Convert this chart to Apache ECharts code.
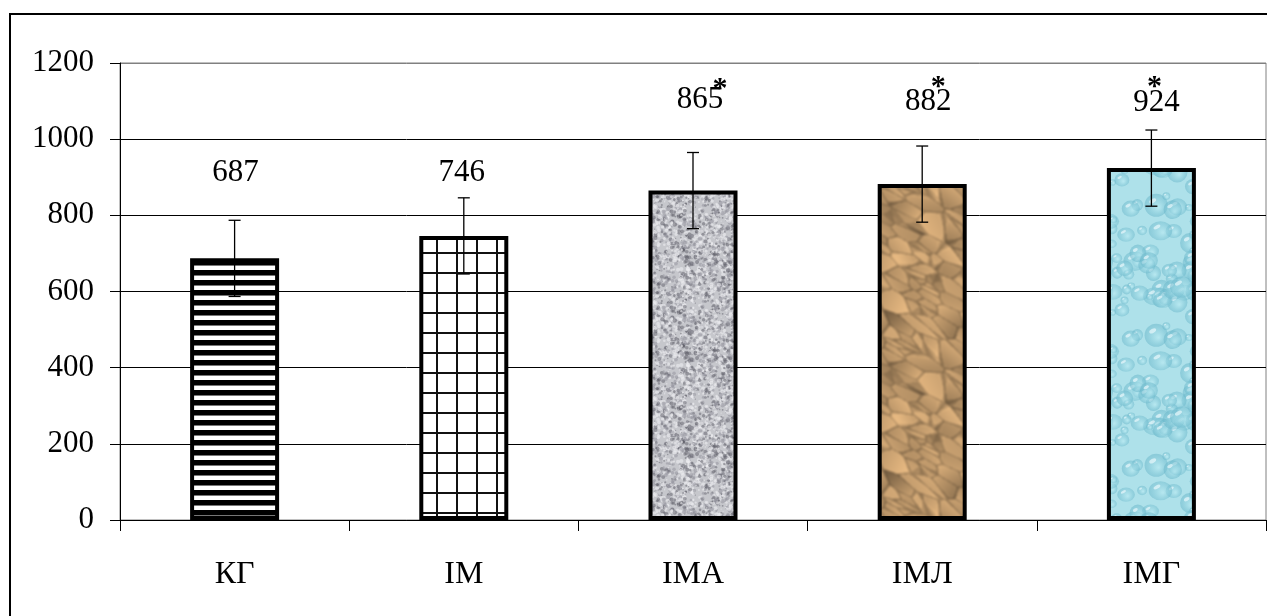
<!DOCTYPE html>
<html>
<head>
<meta charset="utf-8">
<script src="https://cdn.jsdelivr.net/npm/echarts@6/dist/echarts.min.js"></script>
<style>
  html, body { margin: 0; padding: 0; background: #fff; }
  #chart { width: 1267px; height: 616px; }
</style>
</head>
<body>
<div id="chart"></div>
<script>
// ---------------- data ----------------
const categories = ['КГ', 'ІМ', 'ІМА', 'ІМЛ', 'ІМГ'];
const means = [687, 746, 865, 882, 924];
const errors = [100, 100, 100, 100, 100];
const significant = [false, false, true, true, true];
const yMin = 0, yMax = 1200, yStep = 200;

// ---------------- layout / styles (not data) ----------------
const FONT = '"Liberation Serif", "Times New Roman", serif';
// label centre: [dx, lift above bar top] in px
const labelShift = [[1, 86], [-2, 63], [7, 91], [6, 82], [5, 65]];
// asterisk relative to label centre
const starShift = [[0, 0], [0, 0], [20, -15], [10, -20], [-2, -21]];

// ---------------- textures ----------------
function rng(seed) {
  return function () {
    seed |= 0; seed = seed + 0x6D2B79F5 | 0;
    let t = Math.imul(seed ^ seed >>> 15, 1 | seed);
    t = t + Math.imul(t ^ t >>> 7, 61 | t) ^ t;
    return ((t ^ t >>> 14) >>> 0) / 4294967296;
  };
}
function mk(w, h) { const c = document.createElement('canvas'); c.width = w; c.height = h; return c; }
// blur a tile seamlessly (wrap-around)
function blurWrap(src, px) {
  const w = src.width, h = src.height;
  const big = mk(w * 3, h * 3), gb = big.getContext('2d');
  for (let i = 0; i < 3; i++) for (let j = 0; j < 3; j++) gb.drawImage(src, i * w, j * h);
  const big2 = mk(w * 3, h * 3), gb2 = big2.getContext('2d');
  gb2.filter = 'blur(' + px + 'px)'; gb2.drawImage(big, 0, 0);
  const out = mk(w, h);
  out.getContext('2d').drawImage(big2, w, h, w, h, 0, 0, w, h);
  return out;
}

function stripes() {
  const c = mk(10, 10), g = c.getContext('2d');
  g.fillStyle = '#fff'; g.fillRect(0, 0, 10, 10);
  g.fillStyle = '#000'; g.fillRect(0, 0, 10, 5);
  g.fillStyle = '#777'; g.fillRect(0, 5, 10, 1);
  return c;
}
function gridPat() {
  const c = mk(20, 20), g = c.getContext('2d');
  g.fillStyle = '#fff'; g.fillRect(0, 0, 20, 20);
  g.fillStyle = '#111';
  g.fillRect(16, 0, 2, 20);
  g.fillRect(0, 12, 20, 2);
  return c;
}
function granite() {
  const w = 96, h = 96, c = mk(w, h), g = c.getContext('2d'), r = rng(7);
  g.fillStyle = '#c6c7cc'; g.fillRect(0, 0, w, h);
  for (let i = 0; i < 1500; i++) {
    const x = r() * w, y = r() * h, rad = 0.6 + r() * 1.6, k = r();
    g.fillStyle = k < 0.3 ? 'rgba(95,95,105,0.5)' : (k < 0.58 ? 'rgba(145,145,155,0.5)' : 'rgba(236,236,240,0.6)');
    for (const ox of [-w, 0, w]) for (const oy of [-h, 0, h]) {
      g.beginPath(); g.arc(x + ox, y + oy, rad, 0, Math.PI * 2); g.fill();
    }
  }
  return blurWrap(c, 0.4);
}
function paper() {
  const w = 96, h = 160, c = mk(w, h), g = c.getContext('2d'), r = rng(21);
  const pts = [];
  for (let i = 0; i < 60; i++) {
    pts.push({ x: r() * w, y: r() * h, s: 0.87 + r() * 0.2, gx: (r() - 0.5) * 0.02, gy: (r() - 0.5) * 0.02 });
  }
  const ca = Math.cos(0.55), sa = Math.sin(0.55);
  const img = g.createImageData(w, h);
  for (let y = 0; y < h; y++) {
    for (let x = 0; x < w; x++) {
      let d1 = 1e9, d2 = 1e9, n1 = null, ddx = 0, ddy = 0;
      for (const p of pts) {
        let dx = x - p.x, dy = y - p.y;
        if (dx > w / 2) dx -= w; else if (dx < -w / 2) dx += w;
        if (dy > h / 2) dy -= h; else if (dy < -h / 2) dy += h;
        const u = dx * ca + dy * sa, v = -dx * sa + dy * ca;
        const d = Math.sqrt(u * u * 0.3 + v * v * 1.6);
        if (d < d1) { d2 = d1; d1 = d; n1 = p; ddx = dx; ddy = dy; }
        else if (d < d2) { d2 = d; }
      }
      let s = n1.s + n1.gx * ddx + n1.gy * ddy;
      const edge = d2 - d1;
      if (edge < 0.8) s *= 0.76; else if (edge < 1.8) s *= 0.89; else if (edge < 2.8) s *= 1.04;
      s = Math.max(0.55, Math.min(1.15, s));
      const k = (y * w + x) * 4;
      img.data[k] = Math.min(255, 200 * s);
      img.data[k + 1] = Math.min(255, 160 * s);
      img.data[k + 2] = Math.min(255, 112 * s);
      img.data[k + 3] = 255;
    }
  }
  g.putImageData(img, 0, 0);
  return blurWrap(c, 1);
}
function water() {
  const w = 90, h = 130, c = mk(w, h), g = c.getContext('2d'), r = rng(5);
  g.fillStyle = '#aee1ea'; g.fillRect(0, 0, w, h);
  for (let i = 0; i < 55; i++) {
    const x0 = r() * w, y0 = r() * h, rx = 3 + r() * 9, ry = rx * (0.75 + r() * 0.35);
    for (const ox of [-w, 0, w]) for (const oy of [-h, 0, h]) {
      const x = x0 + ox, y = y0 + oy;
      const gr = g.createRadialGradient(x + rx * 0.2, y + ry * 0.2, 0.5, x, y, rx * 1.05);
      gr.addColorStop(0, 'rgba(185,234,242,0.6)');
      gr.addColorStop(0.65, 'rgba(128,198,214,0.55)');
      gr.addColorStop(1, 'rgba(100,178,198,0.5)');
      g.fillStyle = gr;
      g.beginPath(); g.ellipse(x, y, rx, ry, 0, 0, Math.PI * 2); g.fill();
      g.fillStyle = 'rgba(240,251,253,0.65)';
      g.beginPath(); g.ellipse(x - rx * 0.3, y - ry * 0.38, rx * 0.32, ry * 0.18, -0.5, 0, Math.PI * 2); g.fill();
    }
  }
  return blurWrap(c, 0.6);
}
const fills = [stripes(), gridPat(), granite(), paper(), water()]
  .map(img => ({ image: img, repeat: 'repeat' }));

// ---------------- chart ----------------
const chart = echarts.init(document.getElementById('chart'), null, { renderer: 'canvas' });

const option = {
  animation: false,
  backgroundColor: '#fff',
  grid: {
    left: 120, right: 1, top: 63, bottom: 96,
    show: true, borderColor: '#808080', borderWidth: 1,
    outerBoundsMode: 'none', containLabel: false
  },
  xAxis: {
    type: 'category',
    data: categories,
    axisLine: { lineStyle: { color: '#000', width: 1 } },
    axisTick: { show: true, length: 11, lineStyle: { color: '#000' } },
    axisLabel: { color: '#000', fontFamily: FONT, fontSize: 32, margin: 39 },
    splitLine: { show: false }
  },
  yAxis: {
    type: 'value',
    min: yMin, max: yMax, interval: yStep,
    axisLine: { show: true, lineStyle: { color: '#000', width: 1 } },
    axisTick: { show: true, length: 10, lineStyle: { color: '#000' } },
    axisLabel: { color: '#000', fontFamily: FONT, fontSize: 31, margin: 26, formatter: v => String(v) },
    splitLine: {
      show: true,
      lineStyle: { color: ['#000', '#000', '#000', '#000', '#000', '#000', '#808080'], width: 1 }
    }
  },
  series: [
    {
      type: 'bar',
      barWidth: 89,
      data: means.map((v, i) => ({
        value: v,
        itemStyle: { color: fills[i], borderColor: '#000', borderWidth: 4 }
      })),
      z: 2
    },
    {
      type: 'custom',
      z: 10,
      data: means.map((v, i) => [i, v, errors[i]]),
      renderItem: function (params, api) {
        const i = api.value(0), m = api.value(1), e = api.value(2);
        const top = api.coord([i, m + e]);
        const bot = api.coord([i, m - e]);
        const hw = 6;
        const st = { stroke: '#000', lineWidth: 1.3 };
        return {
          type: 'group',
          children: [
            { type: 'line', shape: { x1: top[0], y1: top[1], x2: bot[0], y2: bot[1] }, style: st },
            { type: 'line', shape: { x1: top[0] - hw, y1: top[1], x2: top[0] + hw, y2: top[1] }, style: st },
            { type: 'line', shape: { x1: bot[0] - hw, y1: bot[1], x2: bot[0] + hw, y2: bot[1] }, style: st }
          ]
        };
      }
    },
    {
      type: 'custom',
      z: 11,
      data: means.map((v, i) => [i, v]),
      renderItem: function (params, api) {
        const i = params.dataIndex;
        const p = api.coord([api.value(0), api.value(1)]);
        const cx = p[0] + labelShift[i][0], cy = p[1] - labelShift[i][1];
        const kids = [{
          type: 'text', x: cx, y: cy,
          style: { text: String(means[i]), fill: '#000', font: '31px ' + FONT, align: 'center', verticalAlign: 'middle' }
        }];
        if (significant[i]) {
          kids.push({
            type: 'text', x: cx + starShift[i][0], y: cy + starShift[i][1] + 5,
            style: { text: '*', fill: '#000', font: 'bold 30px ' + FONT, align: 'center', verticalAlign: 'middle' }
          });
        }
        return { type: 'group', children: kids };
      }
    }
  ],
  graphic: [{
    type: 'rect',
    silent: true,
    shape: { x: 10, y: 14, width: 1300, height: 700 },
    style: { fill: 'none', stroke: '#000', lineWidth: 2 },
    z: 100
  }]
};
chart.setOption(option);
</script>
</body>
</html>
